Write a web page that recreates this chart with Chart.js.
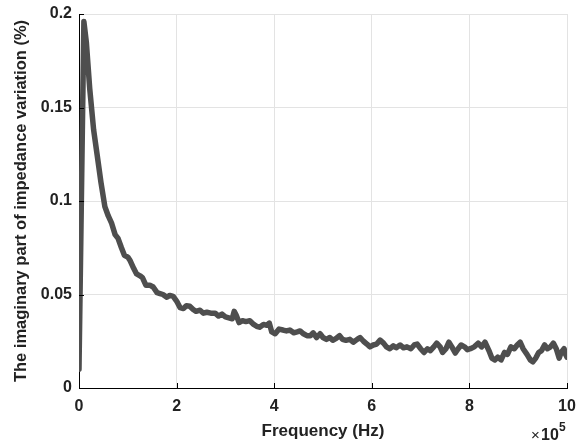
<!DOCTYPE html>
<html>
<head>
<meta charset="utf-8">
<script src="https://cdn.jsdelivr.net/npm/chart.js@4/dist/chart.umd.min.js"></script>
<style>
  html, body { margin: 0; padding: 0; background: #fff; }
  #wrap { width: 581px; height: 447px; }
</style>
</head>
<body>
<div id="wrap"><canvas id="myChart" width="581" height="447"></canvas></div>
<script>
// frequency in units of 1e5 Hz
var freq = [0, 0.1, 0.15, 0.22, 0.3, 0.37, 0.45, 0.53, 0.6, 0.67, 0.74, 0.8, 0.87, 0.93, 1.0,
  1.05, 1.12, 1.18, 1.25, 1.3, 1.37, 1.45, 1.52, 1.6, 1.66, 1.72, 1.8, 1.86, 1.93, 2.0,
  2.07, 2.14, 2.2, 2.27, 2.34, 2.4, 2.48, 2.55, 2.62, 2.7, 2.79, 2.86, 2.93, 3.0,
  3.07, 3.14, 3.18, 3.22, 3.28, 3.35, 3.42, 3.5, 3.58, 3.64, 3.7, 3.78, 3.85, 3.9, 3.95,
  4.02, 4.1, 4.18, 4.25, 4.32, 4.4, 4.47, 4.53, 4.6, 4.67, 4.74, 4.8, 4.87, 4.94,
  5.0, 5.07, 5.14, 5.2, 5.27, 5.34, 5.4, 5.47, 5.55, 5.62, 5.7, 5.76, 5.83, 5.9, 5.96,
  6.03, 6.1, 6.17, 6.24, 6.3, 6.37, 6.44, 6.5, 6.58, 6.65, 6.72, 6.8, 6.87, 6.93,
  7.0, 7.07, 7.14, 7.2, 7.27, 7.33, 7.4, 7.45, 7.52, 7.58, 7.64, 7.71, 7.77, 7.83, 7.9, 7.96,
  8.02, 8.1, 8.18, 8.25, 8.32, 8.4, 8.46, 8.52, 8.58, 8.65, 8.72, 8.78, 8.85, 8.92, 8.98,
  9.04, 9.1, 9.18, 9.25, 9.3, 9.36, 9.42, 9.48, 9.54, 9.6, 9.66, 9.72, 9.78, 9.84, 9.88, 9.94, 9.97, 10.0];

// imaginary part of impedance variation (%)
var imagPart = [0.010, 0.196, 0.185, 0.160, 0.138, 0.125, 0.110, 0.097, 0.092, 0.088, 0.082, 0.080, 0.075, 0.071, 0.070,
  0.068, 0.064, 0.061, 0.060, 0.059, 0.055, 0.055, 0.054, 0.051, 0.0505, 0.050, 0.0485, 0.0495, 0.049, 0.0465,
  0.043, 0.0425, 0.044, 0.0437, 0.042, 0.041, 0.0416, 0.040, 0.0405, 0.040, 0.040, 0.0385, 0.0395, 0.038,
  0.0375, 0.037, 0.041, 0.039, 0.035, 0.036, 0.0355, 0.036, 0.034, 0.033, 0.0325, 0.034, 0.0335, 0.0347, 0.030,
  0.029, 0.0315, 0.031, 0.0305, 0.031, 0.0295, 0.030, 0.0305, 0.029, 0.028, 0.028, 0.0295, 0.027, 0.029,
  0.027, 0.026, 0.027, 0.0255, 0.0265, 0.028, 0.026, 0.0255, 0.026, 0.0245, 0.026, 0.027, 0.025, 0.0235, 0.022,
  0.023, 0.0235, 0.0256, 0.024, 0.022, 0.021, 0.0225, 0.0215, 0.023, 0.0215, 0.022, 0.021, 0.023, 0.0235,
  0.021, 0.019, 0.021, 0.020, 0.022, 0.024, 0.022, 0.019, 0.021, 0.0245, 0.022, 0.0187, 0.021, 0.023, 0.022, 0.0205,
  0.021, 0.022, 0.024, 0.022, 0.0245, 0.020, 0.016, 0.015, 0.0165, 0.015, 0.019, 0.018, 0.022, 0.021, 0.023,
  0.0245, 0.021, 0.018, 0.015, 0.014, 0.016, 0.019, 0.020, 0.023, 0.021, 0.022, 0.024, 0.021, 0.016, 0.019, 0.021, 0.018, 0.0165];

var xTicks = [0, 2, 4, 6, 8, 10];
var yTickLabels = ['0', '0.05', '0.1', '0.15', '0.2'];

var FONT = "'Liberation Sans', Arial, sans-serif";

// MATLAB style ticks pointing into the plot, plus the x10^5 exponent label
var matlabBits = {
  id: 'matlabBits',
  afterDraw: function (chart) {
    var ctx = chart.ctx, a = chart.chartArea;
    var xs = chart.scales.x, ys = chart.scales.y;
    ctx.save();
    ctx.strokeStyle = '#000';
    ctx.lineWidth = 1;
    ctx.beginPath();
    xs.ticks.forEach(function (t) {
      var px = Math.round(xs.getPixelForValue(t.value)) + 0.5;
      ctx.moveTo(px, a.bottom);
      ctx.lineTo(px, a.bottom - 5);
    });
    ys.ticks.forEach(function (t) {
      var py = Math.round(ys.getPixelForValue(t.value)) + 0.5;
      ctx.moveTo(a.left, py);
      ctx.lineTo(a.left + 5, py);
    });
    ctx.stroke();

    ctx.fillStyle = '#222';
    ctx.textBaseline = 'alphabetic';
    ctx.textAlign = 'left';
    ctx.font = '15px ' + FONT;
    ctx.fillText('\u00d7', a.right - 36, a.bottom + 52);
    ctx.font = 'bold 16px ' + FONT;
    ctx.fillText('10', a.right - 26, a.bottom + 52);
    ctx.font = 'bold 12px ' + FONT;
    ctx.fillText('5', a.right - 8, a.bottom + 43);
    ctx.restore();
  }
};

var ctx = document.getElementById('myChart').getContext('2d');
var myChart = new Chart(ctx, {
  type: 'line',
  data: {
    datasets: [{
      data: freq.map(function (f, i) { return { x: f, y: imagPart[i] }; }),
      borderColor: '#4e4e4e',
      borderWidth: 5.5,
      borderJoinStyle: 'round',
      borderCapStyle: 'round',
      pointRadius: 0,
      fill: false,
      tension: 0
    }]
  },
  options: {
    responsive: false,
    animation: false,
    layout: { padding: { top: 14, right: 14, left: 0, bottom: 0 } },
    plugins: { legend: { display: false }, tooltip: { enabled: false } },
    scales: {
      x: {
        type: 'linear',
        min: 0,
        max: 10,
        afterBuildTicks: function (scale) {
          scale.ticks = xTicks.map(function (v) { return { value: v }; });
        },
        afterFit: function (scale) {
          scale.height = 59;
          scale.paddingLeft = 0;
          scale.paddingRight = 0;
        },
        grid: { color: '#e3e3e3', drawTicks: false },
        border: { color: '#000', width: 1 },
        ticks: {
          padding: 9,
          color: '#222',
          font: { family: FONT, size: 16, weight: 'bold' },
          maxRotation: 0
        },
        title: {
          display: true,
          text: 'Frequency (Hz)',
          color: '#222',
          font: { family: FONT, size: 17, weight: 'bold' },
          padding: { top: 0, bottom: 5 }
        }
      },
      y: {
        min: 0,
        max: 0.2,
        ticks: {
          stepSize: 0.05,
          padding: 7,
          color: '#222',
          font: { family: FONT, size: 16, weight: 'bold' },
          callback: function (value, index) { return yTickLabels[index]; }
        },
        afterFit: function (scale) {
          scale.width = 79;
          scale.paddingTop = 0;
          scale.paddingBottom = 0;
        },
        grid: { color: '#e3e3e3', drawTicks: false },
        border: { color: '#000', width: 1 },
        title: {
          display: true,
          text: 'The imaginary part of impedance variation (%)',
          color: '#222',
          font: { family: FONT, size: 16.5, weight: 'bold' },
          padding: { top: 12, bottom: 0 }
        }
      }
    }
  },
  plugins: [matlabBits]
});
</script>
</body>
</html>
